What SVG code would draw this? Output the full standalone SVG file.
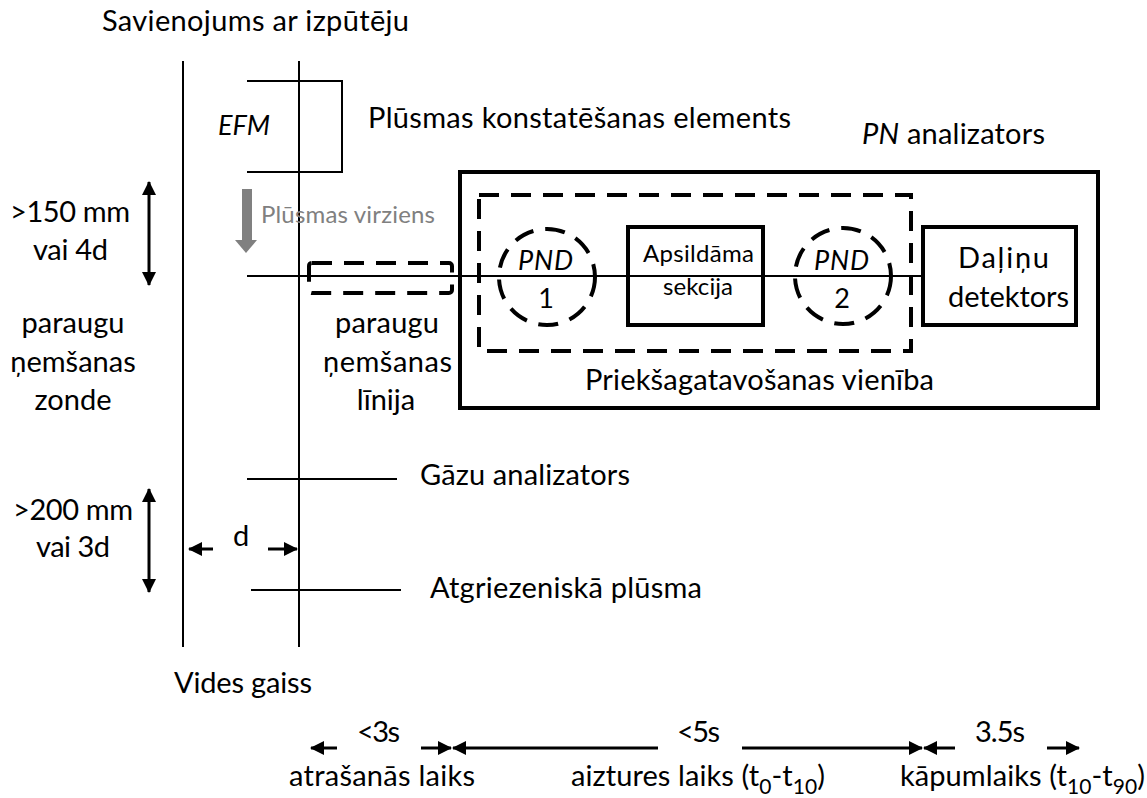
<svg xmlns="http://www.w3.org/2000/svg" width="1147" height="798" viewBox="0 0 1147 798">
  <style>
    text { font-family: Lato, "Liberation Sans", Arial, sans-serif; fill: #000; }
    .t28 { font-size: 29px; }
    .t26 { font-size: 27px; }
    .t23 { font-size: 24px; }
    .it { font-style: italic; }
    .mid { text-anchor: middle; }
    .gray { fill: #808080; }
    .thin { stroke: #000; stroke-width: 2; fill: none; }
    .thick { stroke: #000; stroke-width: 4; fill: none; }
    .dash { stroke: #000; stroke-width: 4; fill: none; stroke-dasharray: 20 12; }
    .arr { stroke: #000; stroke-width: 3; fill: none; }
  </style>
  <defs>
    <marker id="head" viewBox="0 0 14 14" refX="13" refY="7" markerWidth="14" markerHeight="14" markerUnits="userSpaceOnUse" orient="auto-start-reverse">
      <path d="M0,0 L14,7 L0,14 Z" fill="#000"/>
    </marker>
  </defs>

  <rect width="1147" height="798" fill="#fff"/>

  <!-- exhaust pipe walls -->
  <g id="pipe">
    <line class="thin" x1="183" y1="61" x2="183" y2="647"/>
    <line class="thin" x1="299" y1="61" x2="299" y2="647"/>
    <text class="t28" x="102" y="31" textLength="307">Savienojums ar izpūtēju</text>
    <text class="t28" x="174" y="693" textLength="138">Vides gaiss</text>
  </g>

  <!-- flow measuring element -->
  <g id="efm">
    <polyline class="thin" points="247,81 342,81 342,172 247,172"/>
    <text class="t26 it" x="218" y="135" textLength="52">EFM</text>
    <text class="t28" x="368" y="128" textLength="423">Plūsmas konstatēšanas elements</text>
  </g>

  <!-- flow direction -->
  <g id="flow-direction">
    <rect x="242" y="189" width="10" height="52" fill="#808080"/>
    <polygon points="235,240 257,240 246,253" fill="#808080"/>
    <text class="t23 gray" x="261" y="223" textLength="174">Plūsmas virziens</text>
  </g>

  <!-- sampling probe -->
  <g id="probe">
    <text class="t28" x="10" y="222" textLength="120">&gt;150 mm</text>
    <text class="t28" x="33" y="260" textLength="75">vai 4d</text>
    <text class="t28 mid" x="73" y="333">paraugu</text>
    <text class="t28 mid" x="73" y="372">ņemšanas</text>
    <text class="t28 mid" x="73" y="410">zonde</text>
  </g>

  <!-- sampling line -->
  <g id="sampling-line">
    <rect class="dash" x="309" y="263" width="143" height="30" rx="3"/>
    <text class="t28" x="335" y="333" textLength="104">paraugu</text>
    <text class="t28" x="323" y="372" textLength="129">ņemšanas</text>
    <text class="t28 mid" x="386" y="410">līnija</text>
  </g>

  <!-- PN analyser -->
  <g id="pn-analyser">
    <rect class="thick" x="460" y="172" width="638" height="236"/>
    <text class="t28" x="862" y="144" textLength="183"><tspan class="it">PN</tspan> analizators</text>
  </g>

  <!-- pre-conditioning unit -->
  <g id="preconditioning">
    <rect class="dash" x="479" y="195" width="432" height="156"/>
    <text class="t28" x="585" y="390" textLength="349">Priekšagatavošanas vienība</text>
  </g>

  <g id="pnd1">
    <circle class="dash" cx="547" cy="277" r="48" stroke-dasharray="18 11"/>
    <text class="t26 it" x="518" y="270" textLength="55">PND</text>
    <text class="t26 mid" x="546" y="308">1</text>
  </g>

  <g id="heated-section">
    <rect class="thick" x="628" y="227" width="135" height="98"/>
    <text class="t23" x="643" y="262" textLength="111">Apsildāma</text>
    <text class="t23" x="663" y="295" textLength="70">sekcija</text>
  </g>

  <g id="pnd2">
    <circle class="dash" cx="843" cy="276" r="48" stroke-dasharray="18 11"/>
    <text class="t26 it" x="814" y="270" textLength="55">PND</text>
    <text class="t26 mid" x="842" y="308">2</text>
  </g>

  <g id="particle-detector">
    <rect class="thick" x="923" y="227" width="153" height="98"/>
    <text class="t28" x="958" y="268" textLength="91">Daļiņu</text>
    <text class="t28" x="948" y="307" textLength="121">detektors</text>
  </g>

  <!-- gas analyser and return flow -->
  <g id="gas-analyser">
    <text class="t28" x="420" y="485" textLength="210">Gāzu analizators</text>
  </g>
  <g id="return-flow">
    <text class="t28" x="430" y="598" textLength="272">Atgriezeniskā plūsma</text>
    <text class="t28" x="13" y="520" textLength="120">&gt;200 mm</text>
    <text class="t28" x="36" y="557" textLength="74">vai 3d</text>
    <text class="t28" x="233" y="546">d</text>
  </g>

  <!-- timing -->
  <g id="timing">
    <text class="t28" x="357" y="742" textLength="43">&lt;3s</text>
    <text class="t28" x="677" y="742" textLength="43">&lt;5s</text>
    <text class="t28" x="975" y="742" textLength="50">3.5s</text>
    <text class="t28" x="289" y="786" textLength="186">atrašanās laiks</text>
    <text class="t28" x="571" y="786" textLength="254">aiztures laiks (t<tspan font-size="21" dy="8">0</tspan><tspan dy="-8">-t</tspan><tspan font-size="21" dy="8">10</tspan><tspan dy="-8">)</tspan></text>
    <text class="t28" x="900" y="786" textLength="245">kāpumlaiks (t<tspan font-size="21" dy="8">10</tspan><tspan dy="-8">-t</tspan><tspan font-size="21" dy="8">90</tspan><tspan dy="-8">)</tspan></text>
  </g>

  <!-- connectors -->
  <g id="connectors">
    <line class="thin" x1="247" y1="276" x2="923" y2="276" stroke-width="1.6"/>
    <line class="thin" x1="247" y1="479" x2="397" y2="479"/>
    <line class="thin" x1="251" y1="590" x2="401" y2="590"/>
    <line class="arr" x1="149" y1="182" x2="149" y2="285" marker-start="url(#head)" marker-end="url(#head)"/>
    <line class="arr" x1="149" y1="489" x2="149" y2="592" marker-start="url(#head)" marker-end="url(#head)"/>
    <line class="arr" x1="213" y1="549" x2="189" y2="549" marker-end="url(#head)"/>
    <line class="arr" x1="268" y1="549" x2="297" y2="549" marker-end="url(#head)"/>
    <line class="arr" x1="337" y1="748" x2="311" y2="748" marker-end="url(#head)"/>
    <line class="arr" x1="421" y1="748" x2="451" y2="748" marker-end="url(#head)"/>
    <line class="arr" x1="658" y1="748" x2="453" y2="748" marker-end="url(#head)"/>
    <line class="arr" x1="742" y1="748" x2="922" y2="748" marker-end="url(#head)"/>
    <line class="arr" x1="955" y1="748" x2="924" y2="748" marker-end="url(#head)"/>
    <line class="arr" x1="1047" y1="748" x2="1079" y2="748" marker-end="url(#head)"/>
  </g>
</svg>
